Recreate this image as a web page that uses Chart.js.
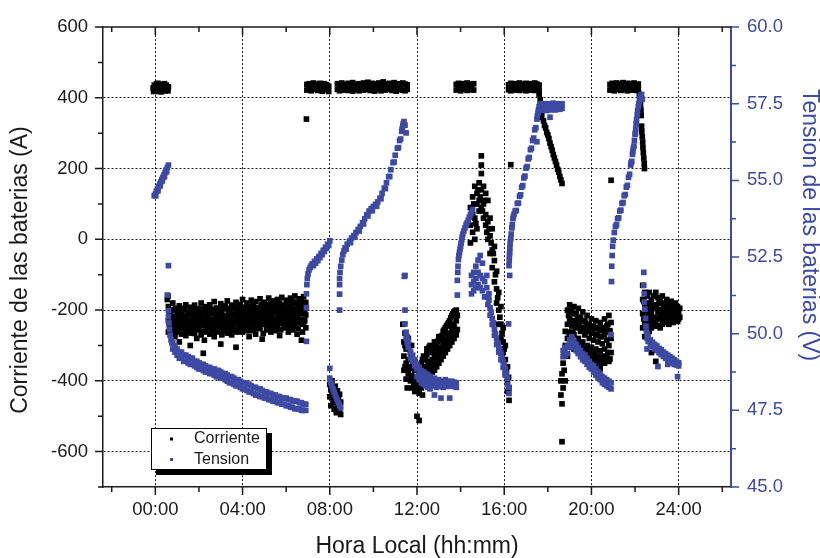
<!DOCTYPE html>
<html>
<head>
<meta charset="utf-8">
<script src="https://cdn.jsdelivr.net/npm/chart.js@4.4.1/dist/chart.umd.min.js"></script>
<style>
  html, body { margin: 0; padding: 0; background: #fff; }
  #grafico { display: block; }
</style>
</head>
<body>
<canvas id="grafico" width="820" height="558"></canvas>
<script>
// Ejes
var horaTicks = [0, 4, 8, 12, 16, 20, 24];
var horaLabels = ['00:00', '04:00', '08:00', '12:00', '16:00', '20:00', '24:00'];
var corrienteTicks = [-600, -400, -200, 0, 200, 400, 600];
var corrienteLabels = ['-600', '-400', '-200', '0', '200', '400', '600'];
var tensionTicks = [45, 47.5, 50, 52.5, 55, 57.5, 60];
var tensionLabels = ['45.0', '47.5', '50.0', '52.5', '55.0', '57.5', '60.0'];

// ---- Corriente (A) ----
var corrienteCarga0 = [[-0.1,428],[-0.08,418],[-0.05,436],[0,422],[0.05,440],[0.1,430],[0.12,441],[0.15,418],[0.2,434],[0.25,426],[0.28,417],[0.3,438],[0.35,424],[0.4,432],[0.42,440],[0.45,420],[0.5,436],[0.55,428],[0.58,420],[0.6,431]];

var horasDescarga1 = [0.6,0.7,0.8,0.9,1.0,1.1,1.2,1.3,1.4,1.5,1.6,1.7,1.8,1.9,2.0,2.1,2.2,2.3,2.4,2.5,2.6,2.7,2.8,2.9,3.0,3.1,3.2,3.3,3.4,3.5,3.6,3.7,3.8,3.9,4.0,4.1,4.2,4.3,4.4,4.5,4.6,4.7,4.8,4.9,5.0,5.1,5.2,5.3,5.4,5.5,5.6,5.7,5.8,5.9,6.0,6.1,6.2,6.3,6.4,6.5,6.6,6.7,6.8,6.9];
var descarga1Alto = [-190,-205,-180,-198,-210,-188,-202,-195,-185,-208,-192,-200,-186,-212,-196,-180,-204,-190,-200,-185,-198,-176,-194,-205,-182,-196,-188,-174,-200,-186,-192,-178,-198,-184,-170,-192,-180,-196,-172,-188,-176,-194,-168,-184,-178,-190,-166,-182,-174,-188,-170,-180,-164,-186,-172,-180,-166,-176,-160,-182,-168,-174,-162,-178];
var descarga1Medio = [-230,-238,-222,-245,-232,-226,-240,-218,-235,-228,-244,-225,-236,-230,-222,-240,-228,-236,-215,-232,-226,-238,-220,-230,-224,-234,-218,-228,-222,-236,-215,-226,-230,-212,-225,-210,-228,-218,-206,-224,-212,-220,-205,-226,-210,-222,-200,-216,-208,-224,-202,-218,-206,-214,-200,-220,-204,-212,-198,-216,-204,-210,-196,-214];
var descarga1Bajo = [-262,-270,-255,-275,-258,-290,-268,-252,-272,-262,-300,-258,-266,-280,-254,-270,-322,-262,-250,-268,-258,-275,-256,-262,-296,-258,-250,-265,-252,-270,-248,-305,-256,-246,-262,-244,-258,-275,-240,-255,-268,-246,-252,-282,-240,-256,-244,-262,-236,-258,-246,-272,-238,-250,-244,-262,-236,-256,-240,-268,-236,-285,-240,-250];
var horasDescarga1b = [0.65,0.75,0.85,0.95,1.05,1.15,1.25,1.35,1.45,1.55,1.65,1.75,1.85,1.95,2.05,2.15,2.25,2.35,2.45,2.55,2.65,2.75,2.85,2.95,3.05,3.15,3.25,3.35,3.45,3.55,3.65,3.75,3.85,3.95,4.05,4.15,4.25,4.35,4.45,4.55,4.65,4.75,4.85,4.95,5.05,5.15,5.25,5.35,5.45,5.55,5.65,5.75,5.85,5.95,6.05,6.15,6.25,6.35,6.45,6.55,6.65,6.75,6.85];
var descarga1bAlto = [-212,-200,-218,-195,-220,-205,-214,-198,-222,-210,-203,-216,-199,-220,-207,-212,-196,-218,-204,-209,-200,-214,-197,-210,-203,-216,-195,-208,-201,-212,-196,-209,-190,-204,-198,-211,-193,-205,-188,-202,-195,-208,-186,-200,-192,-204,-184,-198,-190,-203,-182,-196,-188,-200,-180,-194,-185,-198,-178,-192,-184,-190,-180];
var descarga1bMedio = [-228,-222,-235,-226,-240,-228,-232,-222,-238,-230,-236,-228,-240,-232,-226,-236,-244,-230,-222,-234,-228,-236,-222,-232,-240,-226,-220,-234,-226,-236,-218,-232,-222,-216,-230,-214,-226,-234,-212,-224,-230,-216,-214,-238,-210,-226,-212,-230,-206,-224,-210,-232,-206,-218,-208,-226,-204,-220,-206,-226,-204,-236,-206];
var descarga1bBajo = [-245,-255,-240,-262,-248,-252,-238,-258,-246,-250,-265,-242,-256,-248,-240,-260,-285,-244,-238,-252,-246,-260,-242,-250,-270,-244,-238,-255,-242,-258,-236,-262,-244,-236,-250,-232,-246,-258,-230,-242,-252,-236,-240,-266,-230,-244,-234,-250,-228,-246,-234,-256,-228,-240,-232,-248,-226,-244,-230,-252,-226,-262,-230];
var descarga1Extra = [[0.55,-170],[0.58,-160],[6.93,340]];

var horasCarga1 = [6.95,7.05,7.15,7.25,7.35,7.45,7.55,7.65,7.75,7.85,7.95,8.35,8.45,8.55,8.65,8.75,8.85,8.95,9.05,9.15,9.25,9.35,9.45,9.55,9.65,9.75,9.85,9.95,10.05,10.15,10.25,10.35,10.45,10.55,10.65,10.75,10.85,10.95,11.05,11.15,11.25,11.35,11.45,11.55];
var carga1Alto = [438,440,434,442,436,439,441,435,440,437,433,440,436,442,438,435,441,437,443,439,436,440,434,442,438,444,437,441,439,436,442,438,445,440,437,441,439,443,436,440,438,442,439,437];
var carga1Bajo = [422,426,420,424,428,421,425,419,423,427,418,424,420,426,422,428,421,425,419,427,423,420,426,422,428,424,421,425,419,427,423,420,426,422,428,424,421,425,419,423,427,422,420,424];

var descarga2 = [[8.0,-410],[8.0,-445],[8.05,-425],[8.05,-470],[8.1,-400],[8.1,-440],[8.15,-455],[8.15,-420],[8.2,-432],[8.2,-480],[8.25,-415],[8.25,-462],[8.3,-440],[8.3,-490],[8.35,-428],[8.35,-470],[8.4,-450],[8.45,-438],[8.45,-485],[8.5,-460],[8.5,-495]];

var horasDescarga3 = [11.4,11.5,11.6,11.7,11.8,11.9,12.0,12.1,12.2,12.3,12.4,12.5,12.6,12.7,12.8,12.9,13.0,13.1,13.2,13.3,13.4,13.5,13.6,13.7,13.8];
var descarga3Alto = [-290,-310,-280,-320,-350,-370,-360,-380,-350,-330,-340,-310,-300,-320,-290,-300,-275,-285,-260,-250,-240,-230,-215,-205,-200];
var descarga3Medio = [-330,-350,-340,-365,-390,-400,-395,-410,-385,-370,-360,-350,-345,-340,-330,-320,-310,-305,-295,-285,-270,-265,-250,-240,-230];
var descarga3Bajo = [-370,-395,-380,-400,-420,-430,-425,-435,-420,-405,-395,-390,-380,-375,-370,-360,-350,-340,-330,-320,-310,-300,-290,-280,-270];
var horasDescarga3b = [11.45,11.55,11.65,11.75,11.85,11.95,12.05,12.15,12.25,12.35,12.45,12.55,12.65,12.75,12.85,12.95,13.05,13.15,13.25,13.35,13.45,13.55,13.65,13.75];
var descarga3bAlto = [-300,-295,-300,-335,-360,-365,-370,-365,-340,-335,-325,-305,-310,-305,-295,-288,-280,-272,-255,-245,-235,-222,-210,-202];
var descarga3bBajo = [-360,-370,-360,-385,-405,-415,-415,-405,-400,-385,-375,-365,-360,-355,-345,-335,-325,-315,-305,-295,-285,-275,-265,-255];
var descarga3Extra = [[11.35,-240],[11.45,-265],[11.65,-300],[11.75,-300],[11.55,-420],[12.0,-500],[12.1,-512],[12.25,-440],[12.45,-310],[13.85,-215],[13.85,-255]];

var horasCarga2 = [13.8,13.9,14.0,14.1,14.2,14.3,14.4,14.5,14.6];
var carga2Alto = [438,441,436,440,437,442,439,436,440];
var carga2Bajo = [422,425,420,424,426,421,423,427,422];

var picoTarde = [[14.45,40],[14.45,-10],[14.45,90],[14.55,120],[14.55,20],[14.55,70],[14.65,150],[14.65,60],[14.65,0],[14.75,100],[14.75,130],[14.75,30],[14.85,160],[14.85,80],[14.85,110],[14.95,236],[14.95,210],[14.95,186],[14.95,140],[14.95,90],[15.05,150],[15.05,100],[15.05,60],[15.15,130],[15.15,70],[15.15,40],[15.25,110],[15.25,50],[15.25,0],[15.35,60],[15.35,10],[15.35,-40],[15.45,30],[15.45,-30],[15.45,-80],[15.55,-20],[15.55,-60],[15.55,-120],[15.65,-90],[15.65,-140],[15.65,-180],[15.75,-150],[15.75,-200],[15.75,-240],[15.85,-190],[15.85,-240],[15.85,-280],[15.95,-250],[15.95,-290],[15.95,-320],[16.05,-300],[16.05,-340],[16.05,-380],[16.15,-360],[16.15,-400],[16.15,-430],[16.22,-420],[16.22,-455],[16.3,211],
    [14.6,100],[14.7,45],[14.8,140],[14.9,120],[15.0,80],[15.1,110],[15.2,20],[15.3,30],[15.4,-10],[15.5,-40],[15.6,-100],[15.7,-165],[15.8,-220],[15.9,-265],[16.0,-310],[16.1,-370],[16.2,-390]];

var horasCarga3 = [16.2,16.3,16.4,16.5,16.6,16.7,16.8,16.9,17.0,17.1,17.2,17.3,17.4,17.5,17.6];
var carga3Alto = [437,441,436,440,438,442,436,439,441,437,440,438,442,439,436];
var carga3Bajo = [423,420,426,422,425,421,427,423,420,426,422,424,421,425,420];
var caidaTarde = [[17.6,410],[17.65,395],[17.65,380],[17.72,360],[17.72,345],[17.8,335],[17.85,322],[17.9,315],[17.95,302],[18.0,295],[18.05,285],[18.1,272],[18.15,262],[18.2,252],[18.25,240],[18.3,230],[18.35,220],[18.4,210],[18.45,198],[18.5,190],[18.55,178],[18.6,168],[18.65,158]];

var descarga4 = [[18.6,-400],[18.6,-440],[18.65,-380],[18.65,-465],[18.65,-572],[18.7,-350],[18.7,-420],[18.75,-320],[18.75,-370],[18.8,-260],[18.8,-300],[18.8,-400],[18.9,-200],[18.9,-240],[18.9,-280],[18.9,-330],[19.0,-185],[19.0,-225],[19.0,-265],[19.0,-300],[19.1,-200],[19.1,-245],[19.1,-290],[19.2,-190],[19.2,-230],[19.2,-270],[19.2,-310],[19.3,-210],[19.3,-250],[19.3,-295],[19.4,-195],[19.4,-240],[19.4,-280],[19.4,-320],[19.5,-220],[19.5,-260],[19.5,-300],[19.6,-205],[19.6,-250],[19.6,-290],[19.6,-335],[19.7,-230],[19.7,-270],[19.7,-310],[19.8,-215],[19.8,-255],[19.8,-300],[19.8,-340],[19.9,-240],[19.9,-280],[19.9,-320],[20.0,-225],[20.0,-265],[20.0,-305],[20.0,-350],[20.1,-245],[20.1,-285],[20.1,-330],[20.2,-230],[20.2,-270],[20.2,-310],[20.2,-360],[20.3,-250],[20.3,-290],[20.3,-330],[20.4,-235],[20.4,-275],[20.4,-315],[20.4,-365],[20.5,-255],[20.5,-295],[20.5,-340],[20.6,-225],[20.6,-270],[20.6,-310],[20.6,-350],[20.7,-245],[20.7,-285],[20.7,-330],[20.8,-215],[20.8,-260],[20.8,-300],[20.8,-345],[20.9,-235],[20.9,-280],[20.9,-320],[20.9,167]];
var horasDescarga4b = [18.95,19.05,19.15,19.25,19.35,19.45,19.55,19.65,19.75,19.85,19.95,20.05,20.15,20.25,20.35,20.45,20.55,20.65,20.75,20.85];
var descarga4bAlto = [-215,-230,-210,-240,-225,-245,-232,-255,-240,-260,-248,-265,-252,-270,-258,-275,-250,-262,-240,-258];
var descarga4bBajo = [-262,-280,-262,-300,-290,-310,-300,-320,-310,-330,-320,-340,-322,-345,-335,-350,-330,-335,-320,-338];

var horasCarga4 = [20.85,20.95,21.05,21.15,21.25,21.35,21.45,21.55,21.65,21.75,21.85,21.95,22.05,22.15];
var carga4Alto = [438,441,436,442,437,440,443,438,441,436,440,442,437,439];
var carga4Bajo = [422,425,420,424,427,421,425,423,420,426,422,425,421,424];
var caidaNoche = [[22.2,410],[22.22,395],[22.25,380],[22.27,365],[22.28,350],[22.3,320],[22.31,305],[22.33,290],[22.35,275],[22.36,260],[22.38,245],[22.4,230],[22.42,215],[22.43,200]];

var descarga5 = [[22.35,-130],[22.35,-170],[22.35,-210],[22.35,-250],[22.45,-150],[22.45,-190],[22.45,-235],[22.45,-275],[22.55,-160],[22.55,-200],[22.55,-240],[22.65,-150],[22.65,-185],[22.65,-225],[22.65,-260],[22.75,-170],[22.75,-210],[22.75,-250],[22.75,-320],[22.85,-160],[22.85,-195],[22.85,-235],[22.95,-150],[22.95,-190],[22.95,-230],[22.95,-345],[23.05,-165],[23.05,-205],[23.05,-245],[23.15,-175],[23.15,-210],[23.15,-250],[23.25,-160],[23.25,-200],[23.25,-240],[23.35,-180],[23.35,-215],[23.35,-235],[23.45,-170],[23.45,-205],[23.45,-230],[23.55,-185],[23.55,-215],[23.55,-240],[23.65,-175],[23.65,-200],[23.65,-230],[23.75,-190],[23.75,-215],[23.75,-235],[23.85,-180],[23.85,-205],[23.85,-228],[23.95,-190],[23.95,-212],[23.95,-232],[24.05,-195],[24.05,-220]];
var horasDescarga5b = [22.4,22.5,22.6,22.7,22.8,22.9,23.0,23.1,23.2,23.3,23.4,23.5,23.6,23.7,23.8,23.9,24.0];
var descarga5bAlto = [-175,-200,-180,-205,-190,-185,-195,-180,-200,-190,-205,-195,-210,-200,-215,-205,-210];
var descarga5bBajo = [-225,-250,-215,-240,-230,-220,-245,-225,-215,-225,-220,-225,-220,-218,-222,-218,-225];

// ---- Tension (V) ----
var tensionCarga0 = [[-0.05,54.5],[0.0,54.55],[0.02,54.5],[0.05,54.65],[0.1,54.72],[0.12,54.66],[0.15,54.8],[0.2,54.88],[0.22,54.82],[0.25,54.95],[0.3,55.03],[0.32,54.98],[0.35,55.1],[0.4,55.18],[0.42,55.12],[0.45,55.26],[0.5,55.34],[0.52,55.28],[0.55,55.42],[0.6,55.5],[0.6,52.22]];
var tensionInicio1 = [[0.55,51.26],[0.6,50.75],[0.6,50.55],[0.62,50.35],[0.65,50.15],[0.68,49.95],[0.72,49.8],[0.76,49.7]];
var horasTension1 = [0.8,0.9,1.0,1.1,1.2,1.3,1.4,1.5,1.6,1.7,1.8,1.9,2.0,2.1,2.2,2.3,2.4,2.5,2.6,2.7,2.8,2.9,3.0,3.1,3.2,3.3,3.4,3.5,3.6,3.7,3.8,3.9,4.0,4.1,4.2,4.3,4.4,4.5,4.6,4.7,4.8,4.9,5.0,5.1,5.2,5.3,5.4,5.5,5.6,5.7,5.8,5.9,6.0,6.1,6.2,6.3,6.4,6.5,6.6,6.7,6.8,6.9];
var tension1Alto = [49.7,49.6,49.5,49.4,49.4,49.3,49.3,49.25,49.2,49.2,49.1,49.1,49.05,49.0,49.0,48.95,48.9,48.9,48.85,48.85,48.8,48.8,48.75,48.7,48.7,48.65,48.6,48.6,48.55,48.5,48.5,48.45,48.4,48.4,48.35,48.35,48.3,48.25,48.25,48.2,48.2,48.15,48.1,48.1,48.05,48.05,48.0,48.0,47.95,47.95,47.9,47.9,47.9,47.85,47.85,47.8,47.8,47.8,47.75,47.75,47.7,47.7];
var tension1Bajo = [49.5,49.4,49.3,49.2,49.2,49.1,49.1,49.05,49.0,49.0,48.95,48.9,48.85,48.85,48.8,48.75,48.75,48.7,48.7,48.65,48.6,48.6,48.55,48.55,48.5,48.45,48.4,48.4,48.35,48.3,48.3,48.25,48.2,48.2,48.15,48.1,48.1,48.05,48.0,48.0,47.95,47.95,47.9,47.9,47.85,47.85,47.8,47.8,47.75,47.75,47.7,47.7,47.65,47.65,47.6,47.6,47.55,47.55,47.55,47.5,47.5,47.5];

var tensionCarga1 = [[6.93,49.75],[6.93,50.85],[6.93,51.3],[6.95,51.6],[6.97,51.8],[7.0,51.95],[7.05,52.08],[7.1,52.16],[7.15,52.22],[7.2,52.28],[7.25,52.22],[7.3,52.36],[7.35,52.3],[7.4,52.44],[7.45,52.38],[7.5,52.52],[7.55,52.48],[7.6,52.62],[7.65,52.58],[7.7,52.72],[7.75,52.68],[7.8,52.82],[7.85,52.78],[7.9,52.92],[7.95,52.88],[8.0,53.03]];
var tensionDescarga2 = [[8.0,48.87],[8.0,48.55],[8.05,48.4],[8.1,48.3],[8.15,48.2],[8.2,48.1],[8.25,48.0],[8.3,47.9],[8.35,47.82],[8.4,47.74],[8.45,47.66],[8.5,47.58]];
var tensionCarga2 = [[8.45,50.77],[8.45,51.29],[8.45,51.6],[8.45,51.8],[8.47,52.0],[8.5,52.2],[8.55,52.4],[8.6,52.58],[8.65,52.7],[8.7,52.8],[8.75,52.76],[8.8,52.92],[8.9,53.02],[8.95,52.97],[9.0,53.12],[9.1,53.2],[9.15,53.15],[9.2,53.3],[9.3,53.4],[9.35,53.35],[9.4,53.5],[9.5,53.62],[9.55,53.58],[9.6,53.75],[9.7,53.88],[9.75,53.84],[9.8,54.0],[9.9,54.08],[9.95,54.01],[10.0,54.15],[10.1,54.22],[10.15,54.16],[10.2,54.3],[10.3,54.42],[10.35,54.4],[10.4,54.58],[10.5,54.75],[10.55,54.73],[10.6,54.92],[10.7,55.12],[10.75,55.13],[10.8,55.35],[10.9,55.58],[10.95,55.6],[11.0,55.82],[11.1,56.05],[11.15,56.07],[11.2,56.3],[11.25,56.35],[11.3,56.6],[11.32,56.68],[11.35,56.78],[11.37,56.85],[11.4,56.92],[11.45,56.8],[11.5,56.55],[11.42,51.87]];

var tensionDescarga3 = [[11.45,51.9],[11.45,50.77],[11.45,50.32],[11.5,50.05],[11.5,49.85],[11.55,49.7],[11.55,49.9],[11.6,49.55],[11.6,49.75],[11.7,49.4],[11.7,49.2],[11.8,49.1],[11.8,49.3],[11.9,48.95],[11.9,49.15],[12.0,48.85],[12.0,48.6],[12.0,49.0],[12.1,48.7],[12.1,48.5],[12.1,48.9],[12.2,48.6],[12.2,48.4],[12.2,48.8],[12.3,48.55],[12.3,48.35],[12.3,48.75],[12.4,48.5],[12.4,48.3],[12.4,48.7],[12.5,48.45],[12.5,48.65],[12.5,48.25],[12.6,48.4],[12.6,48.6],[12.6,48.2],[12.7,48.45],[12.7,48.3],[12.8,48.55],[12.8,48.35],[12.8,48.0],[12.9,48.4],[12.9,48.25],[13.0,48.5],[13.0,48.3],[13.1,48.45],[13.1,48.3],[13.1,47.9],[13.2,48.4],[13.2,48.25],[13.3,48.5],[13.3,48.3],[13.4,48.45],[13.4,48.28],[13.5,48.4],[13.5,48.3],[13.5,47.9],[13.6,48.45],[13.6,48.3],[13.7,48.42],[13.7,48.28],[13.8,48.4],[13.8,48.25]];

var tensionCarga3 = [[13.85,51.26],[13.85,51.74],[13.87,52.0],[13.88,52.2],[13.9,52.42],[13.92,52.55],[13.95,52.65],[13.97,52.75],[14.0,52.85],[14.02,52.95],[14.05,53.05],[14.07,53.15],[14.1,53.25],[14.15,53.35],[14.2,53.45],[14.25,53.55],[14.3,53.62],[14.35,53.7],[14.4,53.8],[14.45,53.88],[14.5,53.95],[14.55,54.05]];
var tensionDescarga4 = [[14.5,51.6],[14.5,51.9],[14.5,51.3],[14.6,51.7],[14.6,52.0],[14.6,51.4],[14.7,51.8],[14.7,52.2],[14.7,51.5],[14.8,52.0],[14.8,52.4],[14.8,51.6],[14.9,51.9],[14.9,52.55],[14.9,51.5],[15.0,51.8],[15.0,52.3],[15.0,51.4],[15.1,51.7],[15.1,51.2],[15.2,51.5],[15.2,51.9],[15.3,51.3],[15.3,51.1],[15.25,51.2],[15.25,50.95],[15.35,50.85],[15.35,50.6],[15.4,50.7],[15.45,50.5],[15.45,50.3],[15.5,50.35],[15.55,50.15],[15.55,49.95],[15.6,50.0],[15.65,49.85],[15.65,49.65],[15.7,49.7],[15.75,49.55],[15.75,49.4],[15.8,49.45],[15.85,49.35],[15.85,49.15],[15.9,49.2],[15.95,49.1],[15.95,48.9],[16.0,48.95],[16.05,48.85],[16.05,48.65],[16.1,48.7],[16.15,48.55],[16.15,48.35],[16.22,48.25],[16.22,48.05],[16.2,50.32],[16.25,51.9]];

var tensionCarga4 = [[16.22,52.22],[16.23,52.4],[16.24,52.55],[16.25,52.65],[16.26,52.8],[16.27,52.95],[16.3,53.1],[16.32,53.25],[16.35,53.45],[16.37,53.55],[16.4,53.75],[16.42,53.82],[16.45,53.9],[16.5,54.0],[16.55,54.02],[16.6,54.25],[16.65,54.26],[16.7,54.48],[16.75,54.53],[16.8,54.78],[16.85,54.83],[16.9,55.08],[16.95,55.14],[17.0,55.4],[17.05,55.45],[17.1,55.7],[17.15,55.75],[17.2,56.0],[17.25,56.05],[17.3,56.3],[17.35,56.38],[17.4,56.65],[17.45,56.72],[17.5,57.0],[17.52,57.1],[17.55,57.2],[17.57,57.3],[17.6,57.4],[17.5,56.26]];
var tensionFlotacion1 = [[17.65,57.5],[17.65,57.3],[17.75,57.45],[17.75,57.28],[17.85,57.5],[17.85,57.32],[17.95,57.42],[17.95,57.28],[18.05,57.5],[18.05,57.35],[18.15,57.45],[18.15,57.3],[18.25,57.52],[18.25,57.34],[18.35,57.45],[18.35,57.3],[18.45,57.5],[18.45,57.36],[18.55,57.48],[18.55,57.32],[18.65,57.5],[18.65,57.35],[18.1,57.06]];

var tensionDescarga5 = [[18.7,49.25],[18.7,49.45],[18.8,49.3],[18.8,49.55],[18.9,49.6],[18.9,49.35],[19.0,49.8],[19.0,49.55],[19.1,49.9],[19.1,49.7],[19.2,49.75],[19.2,49.55],[19.3,49.65],[19.3,49.45],[19.4,49.55],[19.4,49.35],[19.5,49.45],[19.5,49.25],[19.6,49.35],[19.6,49.15],[19.7,49.3],[19.7,49.1],[19.8,49.2],[19.8,49.0],[19.9,49.1],[19.9,48.9],[20.0,49.0],[20.0,48.85],[20.1,48.95],[20.1,48.75],[20.2,48.85],[20.2,48.65],[20.3,48.75],[20.3,48.55],[20.4,48.7],[20.4,48.5],[20.5,48.6],[20.5,48.4],[20.6,48.55],[20.6,48.35],[20.7,48.5],[20.7,48.3],[20.8,48.45],[20.8,48.25],[20.9,48.4],[20.9,48.2],[20.9,49.97]];
var tensionCarga5 = [[20.92,51.7],[20.93,52.2],[20.95,52.55],[20.97,52.85],[21.0,53.05],[21.05,53.3],[21.1,53.5],[21.15,53.55],[21.2,53.75],[21.25,53.78],[21.3,54.0],[21.35,54.03],[21.4,54.25],[21.45,54.28],[21.5,54.5],[21.55,54.54],[21.6,54.78],[21.65,54.84],[21.7,55.1],[21.75,55.2],[21.8,55.5],[21.82,55.58],[21.85,55.62],[21.88,55.85],[21.9,55.95],[21.92,56.05],[21.95,56.12],[21.97,56.3],[22.0,56.5],[22.02,56.55],[22.03,56.68],[22.05,56.85],[22.07,56.98],[22.1,57.15],[22.12,57.28],[22.15,57.4],[22.17,57.5],[22.2,57.6],[22.22,57.68],[22.25,57.75],[22.3,57.8],[22.33,57.65]];
var tensionDescarga6 = [[22.4,52.0],[22.4,51.58],[22.42,51.3],[22.42,51.03],[22.45,50.8],[22.48,50.5],[22.5,50.25],[22.52,50.06],[22.55,50.0],[22.55,49.85],[22.6,49.9],[22.6,49.75],[22.7,49.8],[22.7,49.65],[22.8,49.72],[22.8,49.58],[22.9,49.65],[22.9,49.5],[23.0,49.6],[23.0,49.45],[23.1,49.52],[23.1,49.38],[23.2,49.48],[23.2,49.32],[23.3,49.4],[23.3,49.26],[23.4,49.35],[23.4,49.2],[23.5,49.3],[23.5,49.15],[23.6,49.25],[23.6,49.1],[23.7,49.2],[23.7,49.05],[23.8,49.15],[23.8,49.0],[23.9,49.1],[23.9,48.98],[24.0,49.05],[24.0,48.95],[22.55,49.5],[23.05,48.93],[23.5,49.0],[23.95,48.6]];

function lista(tuplas) {
    return tuplas.map(function(t) { return { x: t[0], y: t[1] }; });
}
function pares(horas, valores) {
    return horas.map(function(h, i) { return { x: h, y: valores[i] }; })
        .filter(function(p) { return p.y != null; });
}

var corriente = [].concat(
    lista(corrienteCarga0),
    pares(horasDescarga1, descarga1Alto), pares(horasDescarga1, descarga1Medio), pares(horasDescarga1, descarga1Bajo),
    pares(horasDescarga1b, descarga1bAlto), pares(horasDescarga1b, descarga1bMedio), pares(horasDescarga1b, descarga1bBajo),
    lista(descarga1Extra),
    pares(horasCarga1, carga1Alto), pares(horasCarga1, carga1Bajo),
    lista(descarga2),
    pares(horasDescarga3, descarga3Alto), pares(horasDescarga3, descarga3Medio), pares(horasDescarga3, descarga3Bajo),
    pares(horasDescarga3b, descarga3bAlto), pares(horasDescarga3b, descarga3bBajo), lista(descarga3Extra),
    pares(horasCarga2, carga2Alto), pares(horasCarga2, carga2Bajo),
    lista(picoTarde),
    pares(horasCarga3, carga3Alto), pares(horasCarga3, carga3Bajo), lista(caidaTarde),
    lista(descarga4), pares(horasDescarga4b, descarga4bAlto), pares(horasDescarga4b, descarga4bBajo),
    pares(horasCarga4, carga4Alto), pares(horasCarga4, carga4Bajo), lista(caidaNoche),
    lista(descarga5), pares(horasDescarga5b, descarga5bAlto), pares(horasDescarga5b, descarga5bBajo)
);

var tension = [].concat(
    lista(tensionCarga0), lista(tensionInicio1),
    pares(horasTension1, tension1Alto), pares(horasTension1, tension1Bajo),
    lista(tensionCarga1), lista(tensionDescarga2), lista(tensionCarga2),
    lista(tensionDescarga3), lista(tensionCarga3), lista(tensionDescarga4),
    lista(tensionCarga4), lista(tensionFlotacion1),
    lista(tensionDescarga5), lista(tensionCarga5), lista(tensionDescarga6)
);

var negro = '#1a1a1a';
var azul = '#3d49a2';
var fuente = 'Liberation Sans, Arial, sans-serif';

var detallesEjes = {
    id: 'detallesEjes',
    afterDraw: function(chart) {
        var ctx = chart.ctx, a = chart.chartArea;
        var x = chart.scales.x, y = chart.scales.y, y1 = chart.scales.y1;
        ctx.save();
        ctx.lineWidth = 1.5;
        ctx.strokeStyle = negro;
        ctx.beginPath();
        ctx.moveTo(a.left, a.top);
        ctx.lineTo(a.right, a.top);
        for (var h = -2; h <= 26; h += 2) {
            var px = x.getPixelForValue(h);
            var lx = (h % 4 === 0 && h >= 0 && h <= 24) ? 8 : 5;
            ctx.moveTo(px, a.bottom); ctx.lineTo(px, a.bottom + lx);
            ctx.moveTo(px, a.top); ctx.lineTo(px, a.top + lx);
        }
        for (var v = -700; v <= 600; v += 100) {
            var py = y.getPixelForValue(v);
            var ly = v % 200 === 0 ? 8 : 5;
            ctx.moveTo(a.left, py); ctx.lineTo(a.left - ly, py);
        }
        ctx.stroke();

        ctx.strokeStyle = azul;
        ctx.beginPath();
        for (var i = 0; i <= 12; i++) {
            var py1 = y1.getPixelForValue(45 + i * 1.25);
            var l1 = i % 2 === 0 ? 8 : 5;
            ctx.moveTo(a.right, py1); ctx.lineTo(a.right + l1, py1);
        }
        ctx.stroke();

        // titulos de los ejes verticales
        var medio = (a.top + a.bottom) / 2;
        ctx.font = '23px ' + fuente;
        ctx.textAlign = 'center';
        ctx.textBaseline = 'middle';
        ctx.fillStyle = negro;
        ctx.save();
        ctx.translate(21, medio + 13);
        ctx.rotate(-Math.PI / 2);
        ctx.fillText('Corriente de las baterias (A)', 0, 0);
        ctx.restore();
        ctx.fillStyle = azul;
        ctx.save();
        ctx.translate(chart.width - 11, medio - 32);
        ctx.rotate(Math.PI / 2);
        ctx.fillText('Tension de las baterias (V)', 0, 0);
        ctx.restore();

        // leyenda con sombra (franjas derecha e inferior)
        var bx = a.left + 48, by = a.bottom - 59, bw = 115, bh = 41, sombra = 5;
        ctx.fillStyle = '#000000';
        ctx.fillRect(bx + bw, by + sombra, sombra + 1, bh + 1);
        ctx.fillRect(bx + sombra, by + bh, bw + 1, sombra + 1);
        ctx.fillStyle = '#ffffff';
        ctx.fillRect(bx, by, bw, bh);
        ctx.strokeStyle = '#000000';
        ctx.lineWidth = 1;
        ctx.strokeRect(bx + 0.5, by + 0.5, bw, bh);
        ctx.font = '16px ' + fuente;
        ctx.textAlign = 'left';
        chart.data.datasets.forEach(function(ds, k) {
            var cy = by + 11 + k * 20.5;
            ctx.fillStyle = ds.backgroundColor;
            ctx.fillRect(bx + 19, cy - 1.5, 3, 3);
            ctx.fillStyle = negro;
            ctx.fillText(ds.label, bx + 43, cy);
        });
        ctx.restore();
    }
};

new Chart(document.getElementById('grafico').getContext('2d'), {
    type: 'scatter',
    data: {
        datasets: [{
            label: 'Corriente',
            data: corriente,
            yAxisID: 'y',
            backgroundColor: '#000',
            pointStyle: 'rect',
            pointRadius: 4,
            pointBorderWidth: 0,
            order: 1
        }, {
            label: 'Tension',
            data: tension,
            yAxisID: 'y1',
            backgroundColor: azul,
            pointStyle: 'rect',
            pointRadius: 4,
            pointBorderWidth: 0,
            order: 0
        }]
    },
    options: {
        responsive: false,
        animation: false,
        events: [],
        layout: { padding: { top: 22, left: 0, right: 0, bottom: 0 } },
        plugins: { legend: { display: false }, tooltip: { enabled: false } },
        scales: {
            x: {
                type: 'linear',
                position: 'bottom',
                min: -2.4,
                max: 26.4,
                afterBuildTicks: function(s) { s.ticks = horaTicks.map(function(v) { return { value: v }; }); },
                afterFit: function(s) { s.height = 71; },
                ticks: {
                    callback: function(v, i) { return horaLabels[i]; },
                    font: { size: 18.5, family: fuente },
                    color: negro,
                    padding: 12,
                    maxRotation: 0,
                    autoSkip: false
                },
                grid: { color: negro, lineWidth: 1, drawTicks: false },
                border: { color: negro, width: 1.5, dash: [2, 2] },
                title: {
                    display: true,
                    text: 'Hora Local (hh:mm)',
                    font: { size: 23, family: fuente, lineHeight: 1 },
                    color: negro,
                    padding: 0
                }
            },
            y: {
                type: 'linear',
                position: 'left',
                min: -700,
                max: 600,
                afterBuildTicks: function(s) { s.ticks = corrienteTicks.map(function(v) { return { value: v }; }); },
                afterFit: function(s) { s.width = 103; },
                ticks: {
                    callback: function(v, i) { return corrienteLabels[i]; },
                    font: { size: 18.5, family: fuente },
                    color: negro,
                    padding: 15
                },
                grid: {
                    color: function(c) { return c.tick && c.tick.value === 600 ? 'rgba(0,0,0,0)' : negro; },
                    lineWidth: 1,
                    drawTicks: false
                },
                border: { color: negro, width: 1.5, dash: [2, 2] }
            },
            y1: {
                type: 'linear',
                position: 'right',
                min: 45,
                max: 60,
                afterBuildTicks: function(s) { s.ticks = tensionTicks.map(function(v) { return { value: v }; }); },
                afterFit: function(s) { s.width = 89; },
                ticks: {
                    callback: function(v, i) { return tensionLabels[i]; },
                    font: { size: 18.5, family: fuente },
                    color: azul,
                    padding: 16
                },
                grid: { drawOnChartArea: false, drawTicks: false },
                border: { color: azul, width: 2 }
            }
        }
    },
    plugins: [detallesEjes]
});
</script>
</body>
</html>
